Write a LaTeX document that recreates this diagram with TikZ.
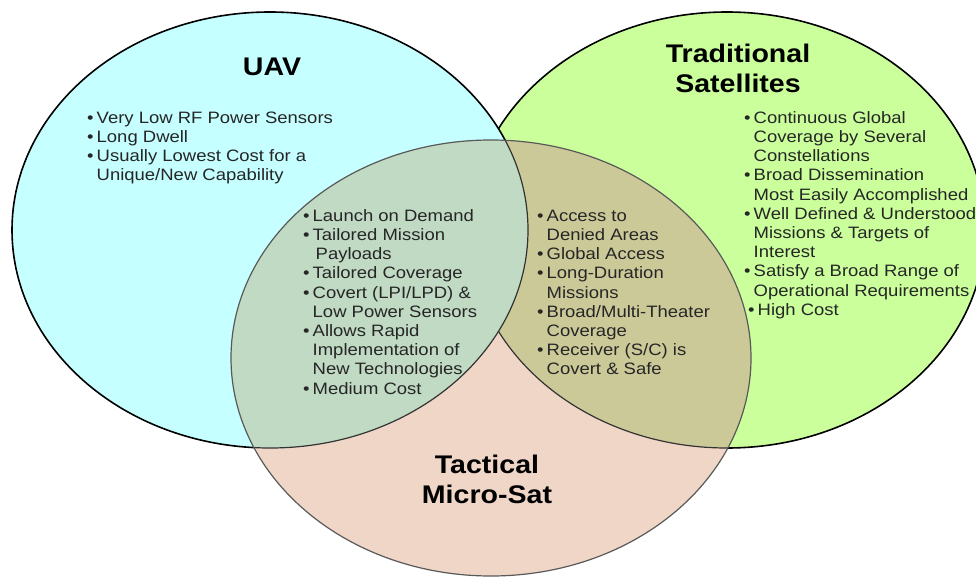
\documentclass[tikz,border=0pt]{standalone}
\usepackage{fontspec}
\setmainfont{Liberation Sans}[FakeStretch=1.12]
\definecolor{uavcol}{RGB}{197,255,255}
\definecolor{satcol}{RGB}{202,255,156}
\definecolor{msatcol}{RGB}{240,214,199}
\definecolor{uavmsat}{RGB}{192,218,196}
\definecolor{satmsat}{RGB}{204,201,153}
\newcommand{\bul}{\makebox[9.5pt][l]{\textbullet}}
\newcommand{\ind}{\hspace*{9.5pt}}
\begin{document}
\begin{tikzpicture}[x=1pt, y=-1pt]
\tikzstyle{headtext}=[inner sep=0, align=center, font=\bfseries\fontsize{25.5}{30}\selectfont]
\tikzstyle{listtext}=[inner sep=0, anchor=north west, align=left, text=black!85, font=\fontsize{16.5}{19.2}\selectfont]
\useasboundingbox (0,0) rectangle (976,577);
    % the three sets
    \draw [fill=satcol, line width=1.6pt] (727,230) ellipse [x radius=258, y radius=218];
    \draw [fill=uavcol, line width=1.6pt] (270,230) ellipse [x radius=258, y radius=218];
    \begin{scope}
        \clip (491,358) ellipse [x radius=260, y radius=218];
        \fill [msatcol] (491,358) ellipse [x radius=260, y radius=218];
        \draw [fill=satmsat, draw=black!80, line width=1.2pt] (727,230) ellipse [x radius=258, y radius=218];
        \draw [fill=uavmsat, draw=black!80, line width=1.2pt] (270,230) ellipse [x radius=258, y radius=218];
    \end{scope}
    \draw [black!65, line width=1.2pt] (491,358) ellipse [x radius=260, y radius=218];
    % titles
    \node [headtext, anchor=base] (uav) at (272,76) {UAV};
    \node [headtext, anchor=north] (sat) at (738,41) {\strut Traditional\\Satellites};
    \node [headtext, anchor=north] (msat) at (487,452) {\strut Tactical\\Micro-Sat};
    % lists
    \node [listtext] (uavlist) at (87,109.6) {\strut\bul Very Low RF Power Sensors\\
        \bul Long Dwell\\
        \bul Usually Lowest Cost for a\\
        \ind Unique/New Capability};
    \node [listtext] (satlist) at (744,109.6) {\strut\bul Continuous Global\\
        \ind Coverage by Several\\
        \ind Constellations\\
        \bul Broad Dissemination\\
        \ind Most Easily Accomplished\\
        \bul Well Defined \& Understood\\
        \ind Missions \& Targets of\\
        \ind Interest\\
        \bul Satisfy a Broad Range of\\
        \ind Operational Requirements\\
        \hspace*{4pt}\bul High Cost};
    \node [listtext] (uavmsatlist) at (303,207.6) {\strut\bul Launch on Demand\\
        \bul Tailored Mission\\
        \ind\hspace*{3pt}Payloads\\
        \bul Tailored Coverage\\
        \bul Covert (LPI/LPD) \&\\
        \ind Low Power Sensors\\
        \bul Allows Rapid\\
        \ind Implementation of\\
        \ind New Technologies\\
        \bul Medium Cost};
    \node [listtext] (satmsatlist) at (537,207.6) {\strut\bul Access to\\
        \ind Denied Areas\\
        \bul Global Access\\
        \bul Long-Duration\\
        \ind Missions\\
        \bul Broad/Multi-Theater\\
        \ind Coverage\\
        \bul Receiver (S/C) is\\
        \ind Covert \& Safe};
\end{tikzpicture}
\end{document}
